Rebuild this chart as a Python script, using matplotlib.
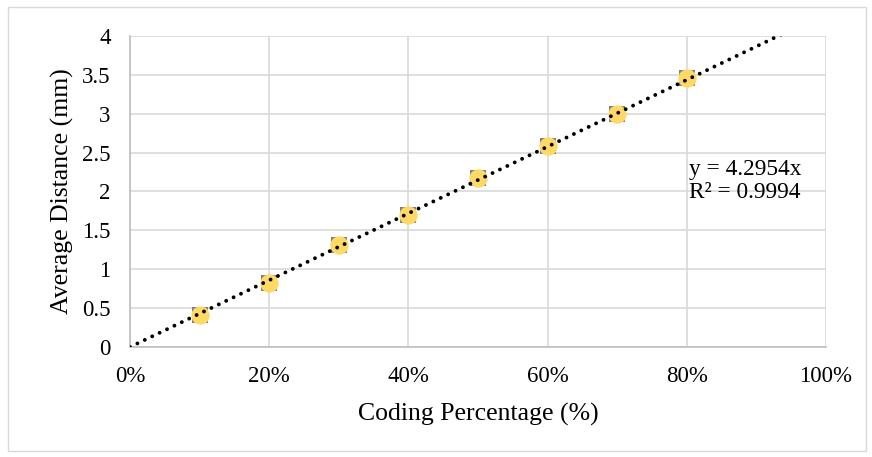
import matplotlib.pyplot as plt
import numpy as np
from matplotlib.patches import Rectangle

plt.rcParams['font.family'] = ['Liberation Serif', 'DejaVu Serif']

# measured data
coding_pct = [0.1, 0.2, 0.3, 0.4, 0.5, 0.6, 0.7, 0.8]
avg_dist = [0.41, 0.82, 1.31, 1.70, 2.17, 2.59, 3.00, 3.46]
slope = 4.2954
r2 = 0.9994

fig = plt.figure(figsize=(8.72, 4.57), dpi=100)
ax = fig.add_axes([130 / 872, 1 - 347 / 457, 696 / 872, 311 / 457])

# outer chart border
fig.patches.append(Rectangle((8 / 872, 6 / 457), 858 / 872, 444 / 457,
                             transform=fig.transFigure, fill=False,
                             edgecolor='#d9d9d9', linewidth=1))

# gray square marker sitting behind the yellow circle
ax.scatter(coding_pct, avg_dist, s=120, marker='s', color='#7f7f7f',
           linewidths=0, zorder=2)
ax.scatter(coding_pct, avg_dist, s=175, color='#ffd966', linewidths=0,
           zorder=3)

xs = np.array([0, 1.0])
ax.plot(xs, slope * xs, linestyle=(0, (0.01, 2.1)), color='#000000',
        linewidth=2.8, dash_capstyle='round', zorder=4)

ax.set_xlim(0, 1)
ax.set_ylim(0, 4)
ax.set_xticks(np.arange(0, 1.01, 0.2))
ax.set_xticklabels([f'{int(round(v * 100))}%' for v in np.arange(0, 1.01, 0.2)])
ax.set_yticks(np.arange(0, 4.01, 0.5))
ax.set_yticklabels(['0', '0.5', '1', '1.5', '2', '2.5', '3', '3.5', '4'])
ax.grid(True, color='#d9d9d9', linewidth=1.2)
ax.set_axisbelow(True)
for side in ['top', 'right']:
    ax.spines[side].set_visible(False)
for side in ['left', 'bottom']:
    ax.spines[side].set_color('#bfbfbf')
    ax.spines[side].set_linewidth(1.2)
ax.tick_params(length=0, labelsize=16.5)
ax.tick_params(axis='y', pad=14)
ax.tick_params(axis='x', pad=14)

ax.set_xlabel('Coding Percentage (%)', fontsize=18.5, labelpad=11)
ax.set_ylabel('Average Distance (mm)', fontsize=18.5, labelpad=6)

ax.text(0.803, 2.14, f'y = {slope}x\nR² = {r2}', fontsize=16.8,
        va='center', ha='left', linespacing=1.12)

fig.savefig('out.png', dpi=100)
